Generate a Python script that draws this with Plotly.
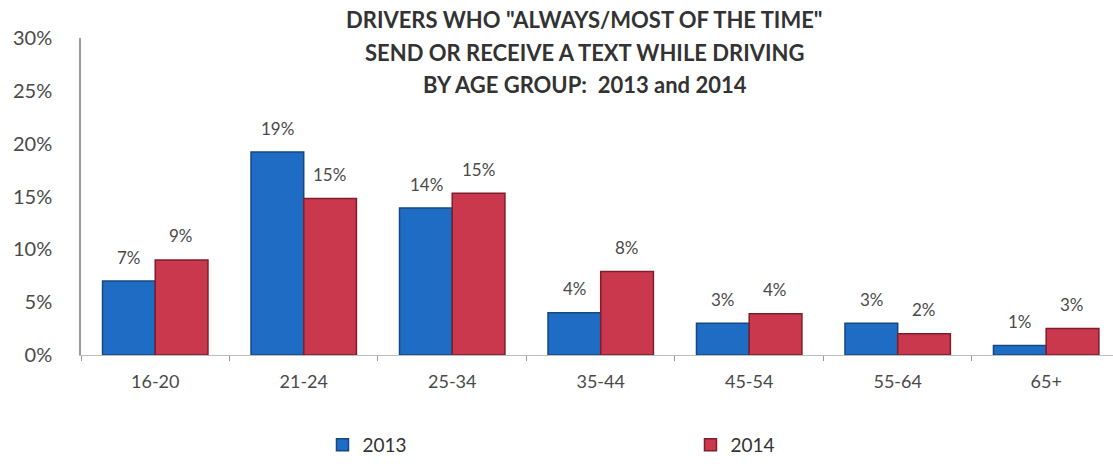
import plotly.graph_objects as go

age_groups = ['16-20', '21-24', '25-34', '35-44', '45-54', '55-64', '65+']
pct_2013 = [7.0, 19.2, 13.9, 4.0, 3.0, 3.0, 0.9]
pct_2014 = [9.0, 14.8, 15.3, 7.9, 3.9, 2.0, 2.5]
labels_2013 = ['7%', '19%', '14%', '4%', '3%', '3%', '1%']
labels_2014 = ['9%', '15%', '15%', '8%', '4%', '2%', '3%']
y_ticks = [0, 5, 10, 15, 20, 25, 30]
y_tick_text = ['0%', '5%', '10%', '15%', '20%', '25%', '30%']
title_lines = ['DRIVERS WHO "ALWAYS/MOST OF THE TIME"',
               'SEND OR RECEIVE A TEXT WHILE DRIVING',
               'BY AGE GROUP:  2013 and 2014']

FONT = 'Lato'
TXT = '#4a4a4a'

fig = go.Figure()
fig.add_trace(go.Bar(x=age_groups, y=pct_2013, name='2013',
                     marker=dict(color='#1f6cc4', line=dict(color='#16487f', width=1.5))))
fig.add_trace(go.Bar(x=age_groups, y=pct_2014, name='2014',
                     marker=dict(color='#c9384c', line=dict(color='#7e1d2b', width=1.5))))

# value labels above the bars
for i, g in enumerate(age_groups):
    for vals, labs, dx in ((pct_2013, labels_2013, -26), (pct_2014, labels_2014, 26)):
        fig.add_annotation(x=g, y=vals[i], text=labs[i], showarrow=False,
                           xshift=dx, yshift=24, yanchor='middle',
                           font=dict(family=FONT, size=17, color=TXT))

# title, one annotation per line
for k, line in enumerate(title_lines):
    fig.add_annotation(text='<b>' + line + '</b>', xref='paper', yref='paper',
                       x=0.488, y=(355 - 20 - 32.5 * k) / 317, yanchor='middle',
                       showarrow=False, font=dict(family=FONT, size=22, color='#333333'))

fig.update_layout(
    width=1113, height=464,
    margin=dict(l=81, r=0, t=38, b=109),
    plot_bgcolor='white', paper_bgcolor='white',
    barmode='group', bargap=0.29, bargroupgap=0,
    font=dict(family=FONT, color=TXT),
    # legend bottom sits on the page edge so it doesn't push the bottom margin
    legend=dict(orientation='h', x=0.234, y=-109 / 317, xanchor='left', yanchor='bottom',
                entrywidth=323, entrywidthmode='pixels', itemwidth=30,
                font=dict(family=FONT, size=19, color='#333333')),
)
fig.update_xaxes(range=[-0.5, 6.45], showline=True, linecolor='#bdbdbd', linewidth=1,
                 ticks='outside', tickson='boundaries', ticklen=5, tickcolor='#9a9a9a',
                 ticklabelstandoff=10, automargin=False,
                 tickfont=dict(family=FONT, size=18, color=TXT), showgrid=False)
fig.update_yaxes(range=[0, 30], tickvals=y_ticks, ticktext=y_tick_text,
                 showline=True, linecolor='#9a9a9a', linewidth=1.5, showgrid=False,
                 zeroline=False, ticks='', ticklabelstandoff=23, automargin=False,
                 tickfont=dict(family=FONT, size=20, color=TXT))

# drop the browser's default body margin so the figure sits at the page corner
fig.write_html('out.html', config={'displayModeBar': False},
               post_script="document.body.style.margin='0';")
